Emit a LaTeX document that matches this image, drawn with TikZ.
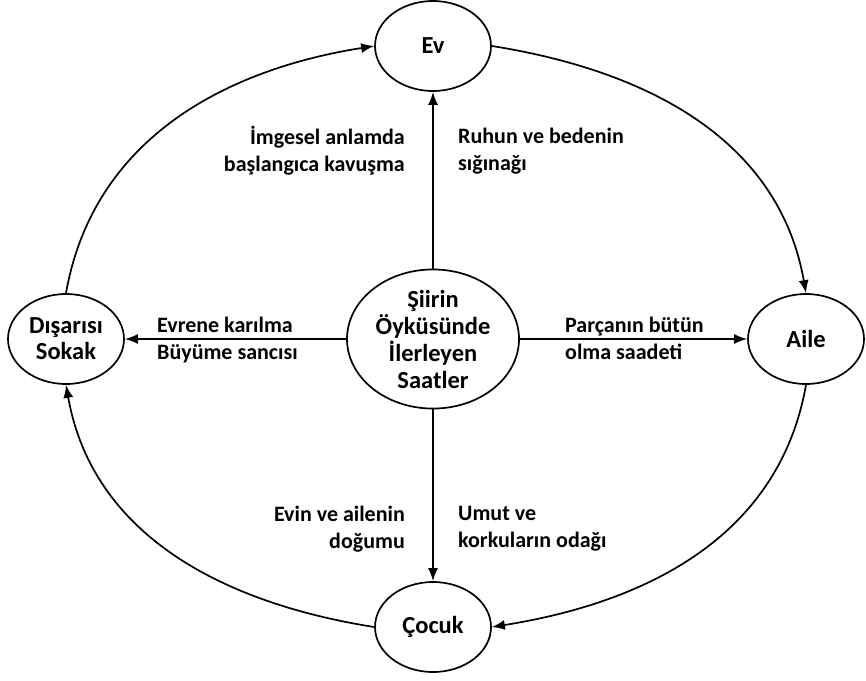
\documentclass[tikz,border=0pt]{standalone}
\usepackage{fontspec}
\setmainfont{Carlito}
\usetikzlibrary{shapes.geometric,arrows.meta}

\begin{document}
\begin{tikzpicture}[
        x=1pt, y=-1pt,
        every node/.style={font=\bfseries\fontsize{22}{27}\selectfont, align=center},
        station/.style={draw, ellipse, line width=1.7pt, minimum width=116pt, minimum height=90pt, inner sep=0pt, font=\bfseries\fontsize{24.5}{26}\selectfont},
        hub/.style={draw, ellipse, line width=1.7pt, minimum width=172pt, minimum height=136pt, inner sep=0pt, font=\bfseries\fontsize{24.5}{27}\selectfont},
        lbl/.style={inner sep=0pt},
        flow/.style={draw, line width=1.7pt, -{Latex[length=13pt,width=10pt]}},
    ]
    \useasboundingbox (0,0) rectangle (866,680);
    \node[hub](saat) at (433,339){Şiirin\\Öyküsünde\\İlerleyen\\Saatler};
    \node[station](ev) at (433,46){Ev};
    \node[station](sokak) at (66,339){Dışarısı\\Sokak};
    \node[station](aile) at (806,339){Aile};
    \node[station](cocuk) at (433,627){Çocuk};
    % spokes
    \draw[flow] (saat) -- (ev);
    \draw[flow] (saat) -- (cocuk);
    \draw[flow] (saat) -- (sokak);
    \draw[flow] (saat) -- (aile);
    % outer ring
    \draw[flow] (ev.east) to[out=-9,in=100] (aile.north);
    \draw[flow] (aile.south) to[out=-100,in=9] (cocuk.east);
    \draw[flow] (cocuk.west) to[out=171,in=-80] (sokak.south);
    \draw[flow] (sokak.north) to[out=80,in=189] (ev.west);
    % labels
    \node[lbl, anchor=east, align=right](l1) at (405,151){İmgesel anlamda\\başlangıca kavuşma};
    \node[lbl, anchor=west, align=left](l2) at (458,151){Ruhun ve bedenin\\sığınağı};
    \node[lbl, anchor=west, align=left](l3) at (157,340){Evrene karılma\\Büyüme sancısı};
    \node[lbl, anchor=west, align=left](l4) at (565,338){Parçanın bütün\\olma saadeti};
    \node[lbl, anchor=east, align=right](l5) at (405,529){Evin ve ailenin\\doğumu};
    \node[lbl, anchor=west, align=left](l6) at (458,529){Umut ve\\korkuların odağı};
\end{tikzpicture}
\end{document}
